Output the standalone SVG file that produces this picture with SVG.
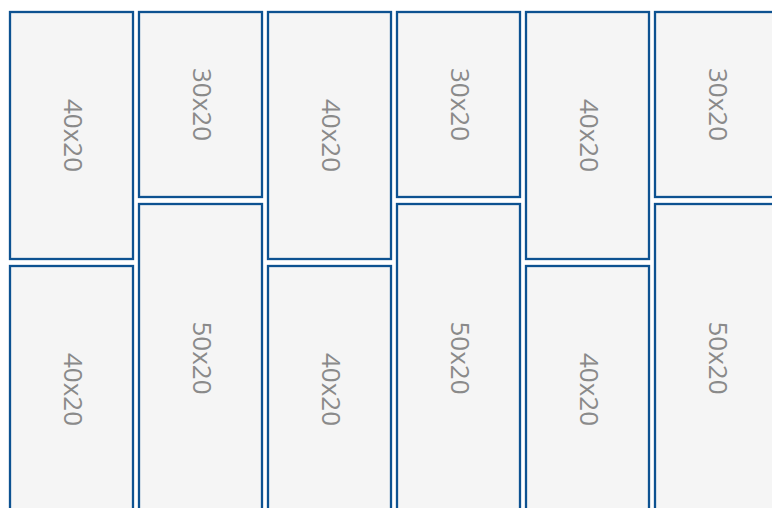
<svg xmlns="http://www.w3.org/2000/svg" width="772" height="508" viewBox="0 0 772 508">
<style>
.b{fill:#f5f5f5;stroke:#0d5291;stroke-width:2.3}
.t{font-family:"Open Sans","Liberation Sans",Arial,sans-serif;font-size:26px;fill:#8a8a8a;text-anchor:middle;dominant-baseline:central}
</style>
<rect width="772" height="508" fill="#ffffff"/>
<g id="c0a"><rect class="b" x="10" y="12" width="123" height="247"/><text class="t" transform="translate(74,135.5) rotate(90)">40x20</text></g>
<g id="c0b"><rect class="b" x="10" y="266" width="123" height="247"/><text class="t" transform="translate(74,389.5) rotate(90)">40x20</text></g>
<g id="c1a"><rect class="b" x="139" y="12" width="123" height="185"/><text class="t" transform="translate(203,104.5) rotate(90)">30x20</text></g>
<g id="c1b"><rect class="b" x="139" y="204" width="123" height="309"/><text class="t" transform="translate(203,358) rotate(90)">50x20</text></g>
<g id="c2a"><rect class="b" x="268" y="12" width="123" height="247"/><text class="t" transform="translate(332,135.5) rotate(90)">40x20</text></g>
<g id="c2b"><rect class="b" x="268" y="266" width="123" height="247"/><text class="t" transform="translate(332,389.5) rotate(90)">40x20</text></g>
<g id="c3a"><rect class="b" x="397" y="12" width="123" height="185"/><text class="t" transform="translate(461,104.5) rotate(90)">30x20</text></g>
<g id="c3b"><rect class="b" x="397" y="204" width="123" height="309"/><text class="t" transform="translate(461,358) rotate(90)">50x20</text></g>
<g id="c4a"><rect class="b" x="526" y="12" width="123" height="247"/><text class="t" transform="translate(590,135.5) rotate(90)">40x20</text></g>
<g id="c4b"><rect class="b" x="526" y="266" width="123" height="247"/><text class="t" transform="translate(590,389.5) rotate(90)">40x20</text></g>
<g id="c5a"><rect class="b" x="655" y="12" width="123" height="185"/><text class="t" transform="translate(719,104.5) rotate(90)">30x20</text></g>
<g id="c5b"><rect class="b" x="655" y="204" width="123" height="309"/><text class="t" transform="translate(719,358) rotate(90)">50x20</text></g>
<g id="connectors"/>
</svg>
